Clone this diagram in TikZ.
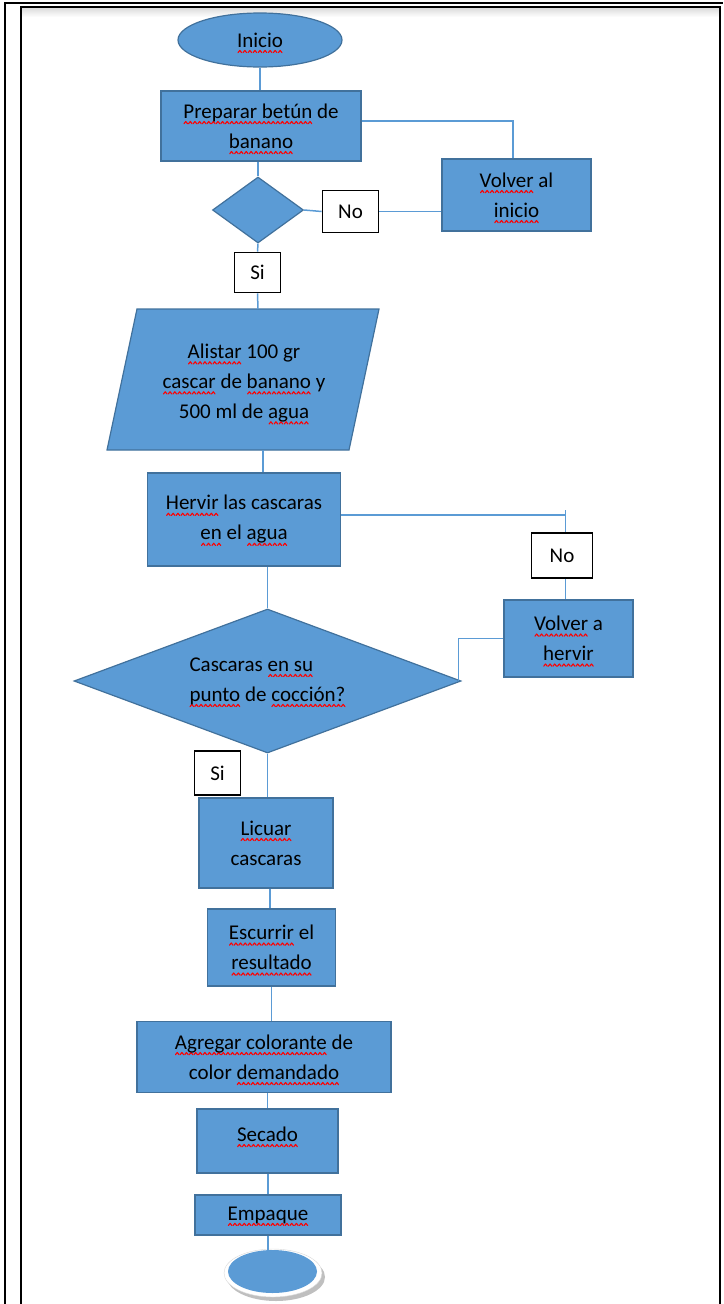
\documentclass[tikz,border=0pt]{standalone}
\usepackage{fontspec}
\setmainfont{Carlito}
\usetikzlibrary{shapes.geometric}
\definecolor{boxblue}{HTML}{5B9BD5}
\definecolor{edgeblue}{HTML}{41719C}
\newcommand\wavebit{\begin{pgfpicture}\pgfsetlinewidth{1.1pt}\pgfsetstrokecolor{red}\pgfsetroundcap\pgfsetroundjoin\pgfpathmoveto{\pgfpoint{0pt}{0pt}}\pgfpathlineto{\pgfpoint{1.75pt}{2.2pt}}\pgfpathlineto{\pgfpoint{3.5pt}{0pt}}\pgfusepath{stroke}\end{pgfpicture}}
\newcommand\sq[1]{\leavevmode\setbox0=\hbox{#1}\rlap{\raisebox{-6pt}[0pt][0pt]{\hbox to\wd0{\xleaders\hbox{\wavebit}\hfill}}}\box0\relax}
\begin{document}
\begin{tikzpicture}[x=1pt,y=-1pt,
  every node/.style={font=\fontsize{21}{30}\selectfont, text=black},
  proc/.style={draw=edgeblue, line width=1.2pt, fill=boxblue, rectangle, inner sep=0pt, align=center},
  decis/.style={draw=edgeblue, line width=1.2pt, fill=boxblue, diamond, inner sep=0pt},
  lbl/.style={draw=black, line width=1.8pt, fill=white, inner sep=0pt},
  conn/.style={draw=boxblue, line width=1.5pt}]
\useasboundingbox (0,0) rectangle (723,1304);
% frame
\fill[top color=gray!30, bottom color=white] (21,7) rectangle (719.5,17);
\draw[line width=2pt] (5,1304) -- (5,2.5) -- (723,2.5);
\draw[line width=2pt] (21,1304) -- (21,7) -- (719.5,7) -- (719.5,1304);
% nodes
\node[ellipse, draw=edgeblue, fill=boxblue, line width=1.2pt, minimum width=164pt, minimum height=54pt, inner sep=0pt] (inicio) at (260,40) {\sq{Inicio}};
\node[proc, minimum width=200pt, minimum height=70pt] (prep) at (261,126) {\sq{Preparar betún} de\\\sq{banano}};
\node[proc, minimum width=149pt, minimum height=72pt] (volver1) at (516.5,195) {\sq{Volver} al\\\sq{inicio}};
\node[decis, minimum width=91pt, minimum height=66pt] (d1) at (258,210) {};
\node[lbl, minimum width=56pt, minimum height=42pt] (no1) at (350.5,211.5) {No};
\node[lbl, minimum width=46pt, minimum height=40pt] (si1) at (257.5,272.5) {Si};
\coordinate (pTL) at (137,309);
\coordinate (pTR) at (379,309);
\coordinate (pBR) at (349,450);
\coordinate (pBL) at (107,450);
\coordinate (pTop) at (258,309);
\coordinate (pBot) at (263,450);
\draw[edgeblue, fill=boxblue, line width=1.2pt] (pTL) -- (pTR) -- (pBR) -- (pBL) -- cycle;
\node[align=center] (alistar) at (244,383) {\sq{Alistar} 100 gr\\\sq{cascar} de \sq{banano} y\\500 ml de \sq{agua}};
\node[proc, minimum width=193pt, minimum height=93pt] (hervir) at (244,519.5) {\sq{Hervir} las cascaras\\\sq{en} el \sq{agua}};
\node[lbl, minimum width=61pt, minimum height=45pt] (no2) at (562,555.5) {No};
\node[proc, minimum width=129pt, minimum height=77pt] (volver2) at (568.5,638.5) {\sq{Volver} a\\\sq{hervir}};
\node[decis, aspect=2.69, minimum width=387pt, minimum height=144pt, align=left] (d2) at (267.5,681) {Cascaras \sq{en su}\\\sq{punto} de \sq{cocción?}};
\node[lbl, minimum width=46pt, minimum height=44pt] (si2) at (217.5,773) {Si};
\node[proc, minimum width=134pt, minimum height=90pt] (licuar) at (266,843) {\sq{Licuar}\\cascaras};
\node[proc, minimum width=128pt, minimum height=77pt] (escurrir) at (271.5,947.5) {\sq{Escurrir} el\\\sq{resultado}};
\node[proc, minimum width=254pt, minimum height=71pt] (agregar) at (264,1057) {\sq{Agregar colorante} de\\color \sq{demandado}};
\node[proc, minimum width=141pt, minimum height=64pt] (secado) at (267.5,1141) {\raisebox{7pt}[\height][\depth]{\sq{Secado}}};
\node[proc, minimum width=146pt, minimum height=40pt] (empaque) at (268,1215) {\sq{Empaque}};
% end terminal with bevel
\fill[gray!50] (276,1277) ellipse [x radius=49, y radius=24];
\fill[white, draw=gray!30] (273,1273) ellipse [x radius=49, y radius=24];
\node[ellipse, fill=boxblue, minimum width=89pt, minimum height=43pt, inner sep=0pt] (fin) at (272.5,1271.5) {};
% connectors
\coordinate (tick) at (565.5,510);
\draw[conn] (inicio.south) -- (inicio.south |- prep.north);
\draw[conn] ([yshift=5pt]prep.east) -| ([xshift=-3.5pt]volver1.north);
\draw[conn] (d1.north |- prep.south) -- (d1.north);
\draw[conn] (d1.east) -- (no1.west);
\draw[conn] (no1.east) -- (no1.east -| volver1.west);
\draw[conn] (d1.south) -- (si1.north);
\draw[conn] (si1.south) -- (pTop);
\draw[conn] (pBot) -- (pBot |- hervir.north);
\draw[conn] (d2.north |- hervir.south) -- (d2.north);
\draw[conn] ([yshift=4.5pt]hervir.east) -- ([yshift=4.5pt]hervir.east -| tick);
\draw[conn] (tick) -- (tick |- no2.north);
\draw[conn] (tick |- no2.south) -- (tick |- volver2.north);
\draw[conn] (volver2.west) -| ([xshift=-3pt]d2.east);
\draw[conn] (d2.south) -- (d2.south |- licuar.north);
\draw[conn] ([xshift=-1.5pt]escurrir.north |- licuar.south) -- ([xshift=-1.5pt]escurrir.north);
\draw[conn] (escurrir.south) -- (escurrir.south |- agregar.north);
\draw[conn] (secado.north |- agregar.south) -- (secado.north);
\draw[conn] (empaque.north |- secado.south) -- (empaque.north);
\draw[conn] (empaque.south) -- (fin.north -| empaque.south);
\end{tikzpicture}
\end{document}
